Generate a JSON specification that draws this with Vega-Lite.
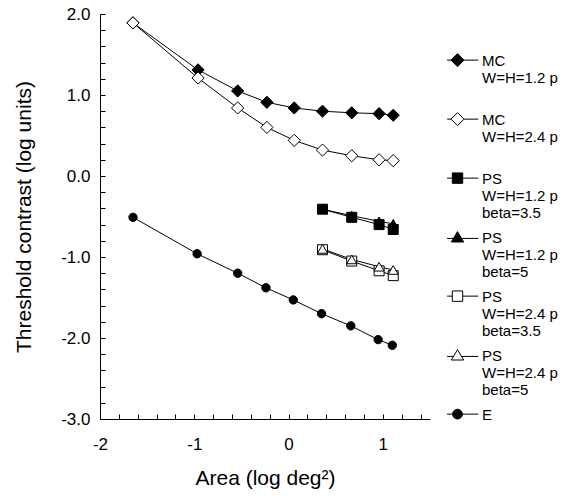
{
  "$schema": "https://vega.github.io/schema/vega-lite/v6.json",
  "width": 330,
  "height": 405,
  "autosize": {"type": "none"},
  "padding": {"left": 100, "top": 14, "right": 134, "bottom": 77},
  "background": "white",
  "config": {
    "view": {"stroke": null},
    "font": "Liberation Sans",
    "axis": {
      "grid": false,
      "domainColor": "black",
      "domainWidth": 1,
      "tickColor": "black",
      "tickWidth": 1,
      "tickSize": -5,
      "labelFont": "Liberation Sans",
      "labelFontSize": 17,
      "labelColor": "black",
      "labelOverlap": false,
      "labelFlush": false,
      "titleFont": "Liberation Sans",
      "titleFontSize": 21,
      "titleFontWeight": "normal",
      "titleColor": "black"
    },
    "legend": {
      "labelFont": "Liberation Sans",
      "labelFontSize": 15,
      "labelColor": "black",
      "labelLimit": 0,
      "padding": 0,
      "gridAlign": "all"
    }
  },
  "data": {
    "values": [
      {"series": "MC|W=H=1.2 p|", "x": -1.65, "y": 1.89},
      {"series": "MC|W=H=1.2 p|", "x": -0.96, "y": 1.31},
      {"series": "MC|W=H=1.2 p|", "x": -0.54, "y": 1.05},
      {"series": "MC|W=H=1.2 p|", "x": -0.23, "y": 0.91},
      {"series": "MC|W=H=1.2 p|", "x": 0.06, "y": 0.84},
      {"series": "MC|W=H=1.2 p|", "x": 0.36, "y": 0.8},
      {"series": "MC|W=H=1.2 p|", "x": 0.67, "y": 0.78},
      {"series": "MC|W=H=1.2 p|", "x": 0.96, "y": 0.77},
      {"series": "MC|W=H=1.2 p|", "x": 1.11, "y": 0.75},
      {"series": "MC|W=H=2.4 p|", "x": -1.65, "y": 1.89},
      {"series": "MC|W=H=2.4 p|", "x": -0.96, "y": 1.21},
      {"series": "MC|W=H=2.4 p|", "x": -0.54, "y": 0.84},
      {"series": "MC|W=H=2.4 p|", "x": -0.23, "y": 0.6},
      {"series": "MC|W=H=2.4 p|", "x": 0.06, "y": 0.44},
      {"series": "MC|W=H=2.4 p|", "x": 0.36, "y": 0.32},
      {"series": "MC|W=H=2.4 p|", "x": 0.67, "y": 0.25},
      {"series": "MC|W=H=2.4 p|", "x": 0.96, "y": 0.2},
      {"series": "MC|W=H=2.4 p|", "x": 1.11, "y": 0.19},
      {"series": "PS|W=H=1.2 p|beta=3.5", "x": 0.36, "y": -0.41},
      {"series": "PS|W=H=1.2 p|beta=3.5", "x": 0.67, "y": -0.51},
      {"series": "PS|W=H=1.2 p|beta=3.5", "x": 0.96, "y": -0.6},
      {"series": "PS|W=H=1.2 p|beta=3.5", "x": 1.11, "y": -0.66},
      {"series": "PS|W=H=1.2 p|beta=5", "x": 0.36, "y": -0.41},
      {"series": "PS|W=H=1.2 p|beta=5", "x": 0.67, "y": -0.49},
      {"series": "PS|W=H=1.2 p|beta=5", "x": 0.96, "y": -0.56},
      {"series": "PS|W=H=1.2 p|beta=5", "x": 1.11, "y": -0.59},
      {"series": "PS|W=H=2.4 p|beta=3.5", "x": 0.36, "y": -0.91},
      {"series": "PS|W=H=2.4 p|beta=3.5", "x": 0.67, "y": -1.05},
      {"series": "PS|W=H=2.4 p|beta=3.5", "x": 0.96, "y": -1.17},
      {"series": "PS|W=H=2.4 p|beta=3.5", "x": 1.11, "y": -1.23},
      {"series": "PS|W=H=2.4 p|beta=5", "x": 0.36, "y": -0.9},
      {"series": "PS|W=H=2.4 p|beta=5", "x": 0.67, "y": -1.03},
      {"series": "PS|W=H=2.4 p|beta=5", "x": 0.96, "y": -1.12},
      {"series": "PS|W=H=2.4 p|beta=5", "x": 1.11, "y": -1.16},
      {"series": "E", "x": -1.65, "y": -0.51},
      {"series": "E", "x": -0.97, "y": -0.96},
      {"series": "E", "x": -0.54, "y": -1.2},
      {"series": "E", "x": -0.24, "y": -1.38},
      {"series": "E", "x": 0.05, "y": -1.53},
      {"series": "E", "x": 0.35, "y": -1.7},
      {"series": "E", "x": 0.66, "y": -1.85},
      {"series": "E", "x": 0.95, "y": -2.02},
      {"series": "E", "x": 1.1, "y": -2.09}
    ]
  },
  "encoding": {
    "x": {
      "field": "x",
      "type": "quantitative",
      "scale": {"domain": [-2, 1.5], "nice": false, "zero": false},
      "axis": {
        "title": "Area (log deg²)",
        "values": [-2, -1.8, -1.6, -1.4, -1.2, -1, -0.8, -0.6, -0.4, -0.2, 0, 0.2, 0.4, 0.6, 0.8, 1, 1.2, 1.4],
        "labelExpr": "datum.value % 1 == 0 ? (datum.value < 0 ? '-' + format(-datum.value, 'd') : format(datum.value, 'd')) : ''",
        "labelPadding": 22,
        "titlePadding": 15
      }
    },
    "y": {
      "field": "y",
      "type": "quantitative",
      "scale": {"domain": [-3, 2], "nice": false, "zero": false},
      "axis": {
        "title": "Threshold contrast (log units)",
        "values": [-3, -2.8, -2.6, -2.4, -2.2, -2, -1.8, -1.6, -1.4, -1.2, -1, -0.8, -0.6, -0.4, -0.2, 0, 0.2, 0.4, 0.6, 0.8, 1, 1.2, 1.4, 1.6, 1.8, 2],
        "labelExpr": "datum.value % 1 == 0 ? (datum.value < 0 ? '-' + format(-datum.value, '.1f') : format(datum.value, '.1f')) : ''",
        "labelPadding": 15,
        "titlePadding": 26
      }
    }
  },
  "layer": [
    {
      "mark": {"type": "line", "color": "black", "strokeWidth": 1},
      "encoding": {"detail": {"field": "series"}, "order": {"field": "x"}}
    },
    {
      "transform": [{"filter": {"field": "series", "equal": "MC|W=H=1.2 p|"}}],
      "mark": {"type": "point", "shape": "diamond", "filled": true, "fill": "black", "stroke": "black", "strokeWidth": 1, "opacity": 1, "size": 150}
    },
    {
      "transform": [{"filter": {"field": "series", "equal": "MC|W=H=2.4 p|"}}],
      "mark": {"type": "point", "shape": "diamond", "filled": true, "fill": "white", "stroke": "black", "strokeWidth": 1, "opacity": 1, "size": 150}
    },
    {
      "transform": [{"filter": {"field": "series", "equal": "PS|W=H=1.2 p|beta=3.5"}}],
      "mark": {"type": "point", "shape": "square", "filled": true, "fill": "black", "stroke": "black", "strokeWidth": 1, "opacity": 1, "size": 100}
    },
    {
      "transform": [{"filter": {"field": "series", "equal": "PS|W=H=1.2 p|beta=5"}}],
      "mark": {"type": "point", "shape": "triangle-up", "filled": true, "fill": "black", "stroke": "black", "strokeWidth": 1, "opacity": 1, "size": 100}
    },
    {
      "transform": [{"filter": {"field": "series", "equal": "PS|W=H=2.4 p|beta=3.5"}}],
      "mark": {"type": "point", "shape": "square", "filled": true, "fill": "white", "stroke": "black", "strokeWidth": 1, "opacity": 1, "size": 100}
    },
    {
      "transform": [{"filter": {"field": "series", "equal": "PS|W=H=2.4 p|beta=5"}}],
      "mark": {"type": "point", "shape": "triangle-up", "filled": true, "fill": "white", "stroke": "black", "strokeWidth": 1, "opacity": 1, "size": 100}
    },
    {
      "transform": [{"filter": {"field": "series", "equal": "E"}}],
      "mark": {"type": "point", "shape": "circle", "filled": true, "fill": "black", "stroke": "black", "strokeWidth": 1, "opacity": 1, "size": 70}
    },
    {
      "transform": [{"filter": "false"}],
      "mark": {"type": "point", "filled": true, "strokeWidth": 1, "opacity": 1},
      "encoding": {
        "shape": {
          "field": "series",
          "scale": {
            "domain": ["MC|W=H=1.2 p|", "MC|W=H=2.4 p|", "PS|W=H=1.2 p|beta=3.5", "PS|W=H=1.2 p|beta=5", "PS|W=H=2.4 p|beta=3.5", "PS|W=H=2.4 p|beta=5", "E"],
            "range": [
              "M-1.6,1.02H-1M1,1.02H3.2M-1,1.02L0,0.02L1,1.02L0,2.02Z",
              "M-1.6,1.02H-1M1,1.02H3.2M-1,1.02L0,0.02L1,1.02L0,2.02Z",
              "M-1.6,1.02H-0.8M0.8,1.02H3.2M-0.8,0.22H0.8V1.82H-0.8Z",
              "M-1.6,1.22H-0.6M0.6,1.22H3.2M0,0.17L0.95,1.77L-0.95,1.77Z",
              "M-1.6,1.02H-0.8M0.8,1.02H3.2M-0.8,0.22H0.8V1.82H-0.8Z",
              "M-1.6,1.22H-0.6M0.6,1.22H3.2M0,0.17L0.95,1.77L-0.95,1.77Z",
              "M-1.6,1.02H-0.75M0.75,1.02H3.2M-0.75,1.02A0.75,0.75 0 1,0 0.75,1.02A0.75,0.75 0 1,0 -0.75,1.02Z"
            ]
          },
          "legend": {
            "title": null,
            "orient": "none",
            "legendX": 350,
            "legendY": 32,
            "symbolSize": 169,
            "symbolStrokeWidth": 1,
            "labelOffset": 17,
            "labelBaseline": "top",
            "gridAlign": "all",
            "labelExpr": "split(datum.label, '|')"
          }
        },
        "fill": {
          "field": "series",
          "scale": {
            "domain": ["MC|W=H=1.2 p|", "MC|W=H=2.4 p|", "PS|W=H=1.2 p|beta=3.5", "PS|W=H=1.2 p|beta=5", "PS|W=H=2.4 p|beta=3.5", "PS|W=H=2.4 p|beta=5", "E"],
            "range": ["black", "white", "black", "black", "white", "white", "black"]
          },
          "legend": {
            "title": null,
            "orient": "none",
            "legendX": 350,
            "legendY": 32,
            "symbolSize": 169,
            "symbolStrokeWidth": 1,
            "labelOffset": 17,
            "labelBaseline": "top",
            "gridAlign": "all",
            "labelExpr": "split(datum.label, '|')"
          }
        },
        "stroke": {
          "field": "series",
          "scale": {
            "domain": ["MC|W=H=1.2 p|", "MC|W=H=2.4 p|", "PS|W=H=1.2 p|beta=3.5", "PS|W=H=1.2 p|beta=5", "PS|W=H=2.4 p|beta=3.5", "PS|W=H=2.4 p|beta=5", "E"],
            "range": ["black", "black", "black", "black", "black", "black", "black"]
          },
          "legend": {
            "title": null,
            "orient": "none",
            "legendX": 350,
            "legendY": 32,
            "symbolSize": 169,
            "symbolStrokeWidth": 1,
            "labelOffset": 17,
            "labelBaseline": "top",
            "gridAlign": "all",
            "labelExpr": "split(datum.label, '|')"
          }
        }
      }
    }
  ]
}
